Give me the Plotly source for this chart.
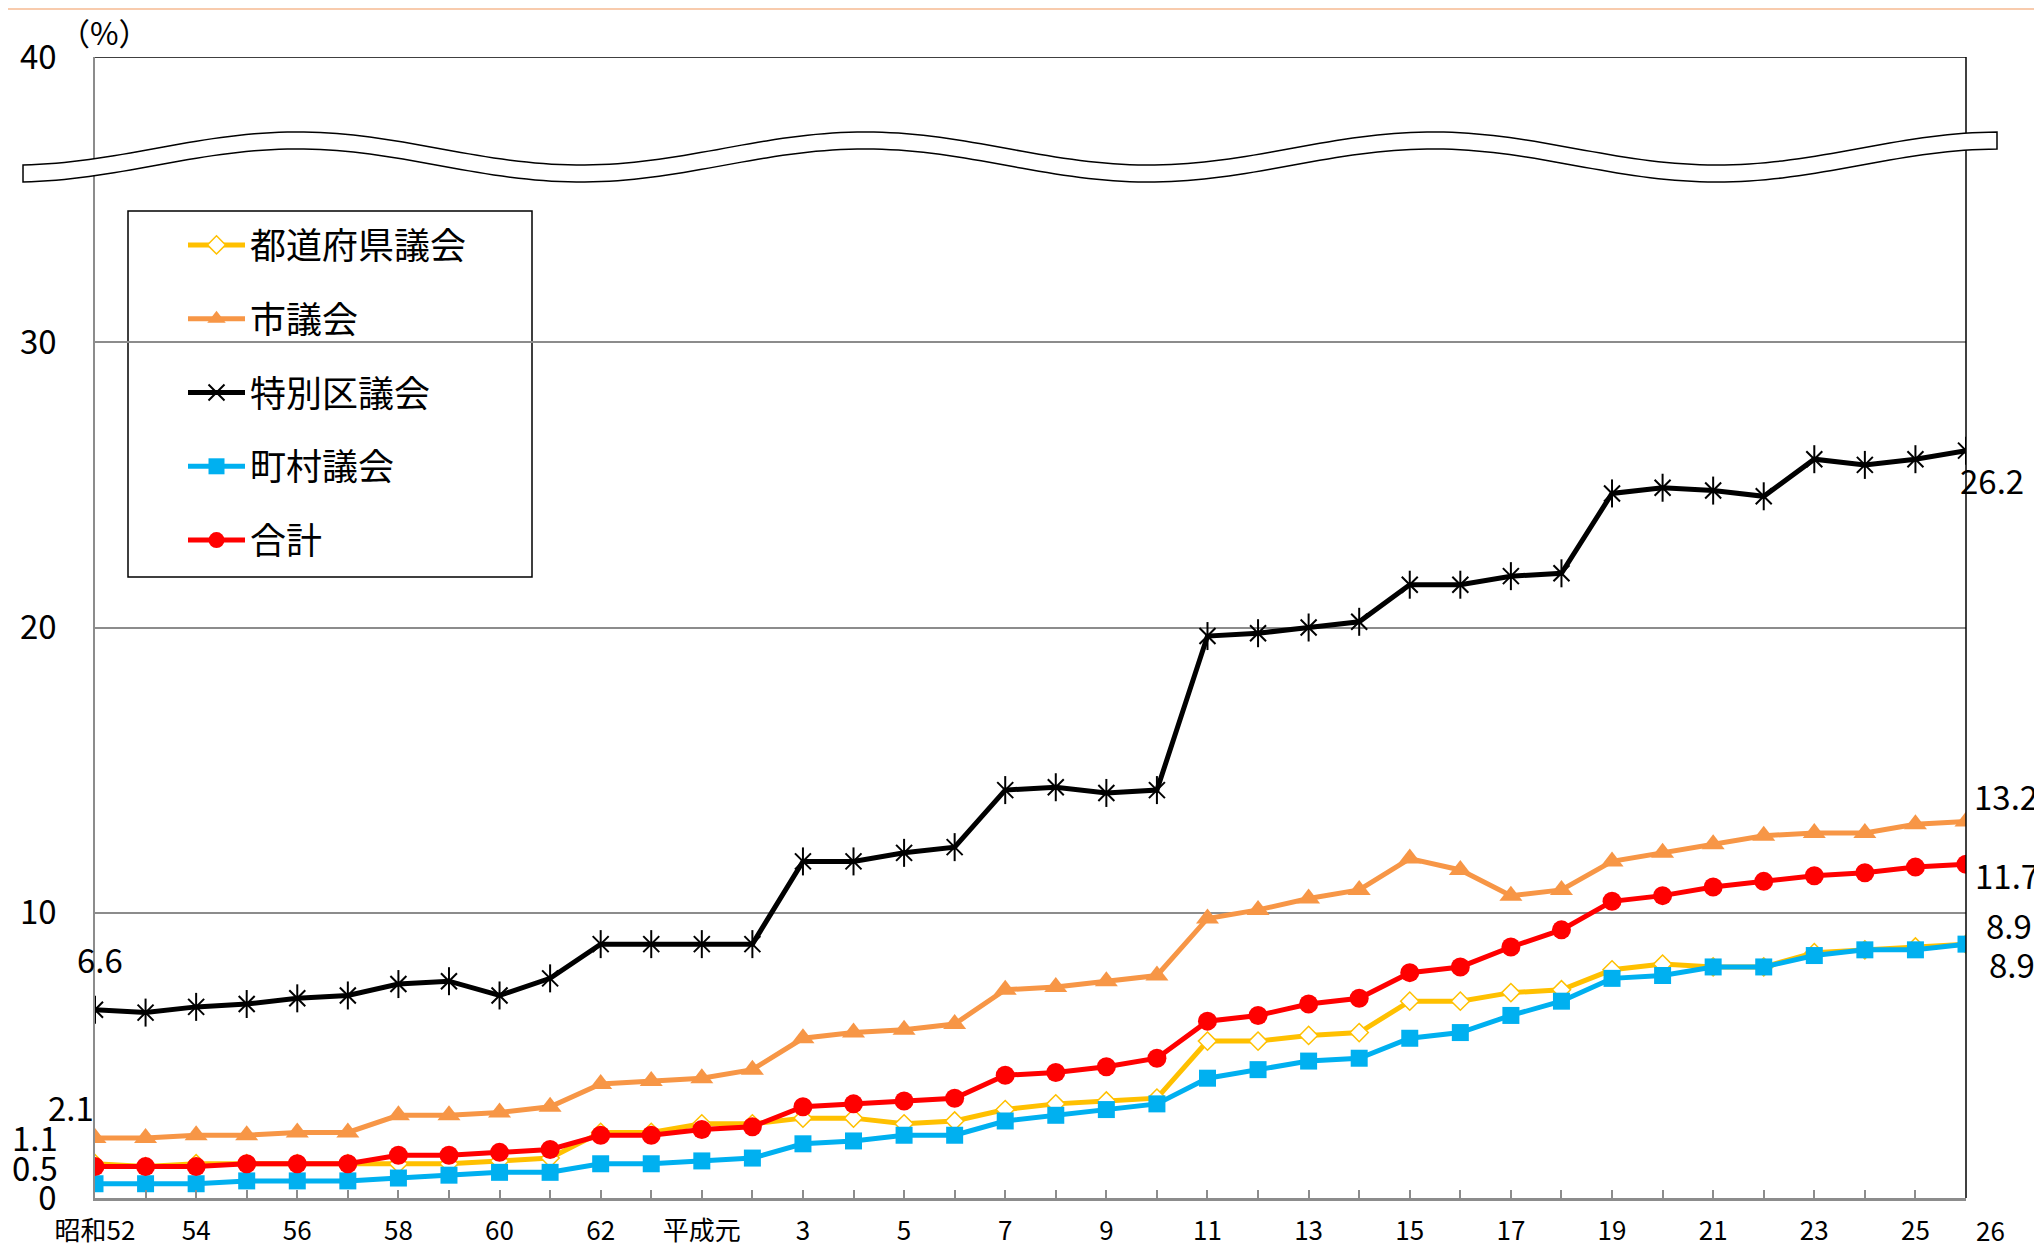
import numpy as np
import plotly.graph_objects as go

# ---------------- data ----------------
years = ["昭和52", "53", "54", "55", "56", "57", "58", "59", "60", "61", "62", "63",
         "平成元", "2", "3", "4", "5", "6", "7", "8", "9", "10", "11", "12", "13", "14",
         "15", "16", "17", "18", "19", "20", "21", "22", "23", "24", "25", "26"]

prefectural = [1.2, 1.1, 1.2, 1.2, 1.2, 1.2, 1.2, 1.2, 1.3, 1.4, 2.3, 2.3,
               2.6, 2.6, 2.8, 2.8, 2.6, 2.7, 3.1, 3.3, 3.4, 3.5, 5.5, 5.5, 5.7, 5.8,
               6.9, 6.9, 7.2, 7.3, 8.0, 8.2, 8.1, 8.1, 8.6, 8.7, 8.8, 8.9]
city = [2.1, 2.1, 2.2, 2.2, 2.3, 2.3, 2.9, 2.9, 3.0, 3.2, 4.0, 4.1,
        4.2, 4.5, 5.6, 5.8, 5.9, 6.1, 7.3, 7.4, 7.6, 7.8, 9.8, 10.1, 10.5, 10.8,
        11.9, 11.5, 10.6, 10.8, 11.8, 12.1, 12.4, 12.7, 12.8, 12.8, 13.1, 13.2]
special_ward = [6.6, 6.5, 6.7, 6.8, 7.0, 7.1, 7.5, 7.6, 7.1, 7.7, 8.9, 8.9,
                8.9, 8.9, 11.8, 11.8, 12.1, 12.3, 14.3, 14.4, 14.2, 14.3, 19.7, 19.8, 20.0, 20.2,
                21.5, 21.5, 21.8, 21.9, 24.7, 24.9, 24.8, 24.6, 25.9, 25.7, 25.9, 26.2]
town_village = [0.5, 0.5, 0.5, 0.6, 0.6, 0.6, 0.7, 0.8, 0.9, 0.9, 1.2, 1.2,
                1.3, 1.4, 1.9, 2.0, 2.2, 2.2, 2.7, 2.9, 3.1, 3.3, 4.2, 4.5, 4.8, 4.9,
                5.6, 5.8, 6.4, 6.9, 7.7, 7.8, 8.1, 8.1, 8.5, 8.7, 8.7, 8.9]
total = [1.1, 1.1, 1.1, 1.2, 1.2, 1.2, 1.5, 1.5, 1.6, 1.7, 2.2, 2.2,
         2.4, 2.5, 3.2, 3.3, 3.4, 3.5, 4.3, 4.4, 4.6, 4.9, 6.2, 6.4, 6.8, 7.0,
         7.9, 8.1, 8.8, 9.4, 10.4, 10.6, 10.9, 11.1, 11.3, 11.4, 11.6, 11.7]

series_names = ["都道府県議会", "市議会", "特別区議会", "町村議会", "合計"]
y_ticks = [0, 10, 20, 30, 40]
x_ticktext = [y if (i % 2 == 0 and i < len(years) - 1) else "" for i, y in enumerate(years)]

# ---------------- layout constants (page pixels) ----------------
PAGE_W, PAGE_H = 2042, 1247
OFF = 8                        # default body margin of the html page
W, H = PAGE_W - OFF, PAGE_H - OFF
PL, PR, PT, PB = 95, 1966, 57, 1198   # plot area in page pixels
ML, MT = PL - OFF, PT - OFF
MR, MB = W - (PR - OFF), H - (PB - OFF)
PW, PH = PR - PL, PB - PT
FONT = "Noto Sans CJK JP"


def px_x(px):
    return (px - PL) / PW


def px_y(py):
    return (PB - py) / PH


fig = go.Figure()

styles = [
    dict(series=prefectural, color="#FFC000", symbol="diamond", size=14,
         mcolor="white", mline=dict(color="#FFC000", width=1.5)),
    dict(series=city, color="#F79646", symbol="triangle-up", size=20,
         mcolor="#F79646", mline=dict(width=0)),
    dict(series=special_ward, color="#000000", symbol="x-thin-open", size=16,
         mcolor="#000000", mline=dict(color="#000000", width=2)),
    dict(series=town_village, color="#00B0F0", symbol="square", size=17,
         mcolor="#00B0F0", mline=dict(width=0)),
    dict(series=total, color="#FF0000", symbol="circle", size=19,
         mcolor="#FF0000", mline=dict(width=0)),
]

idx = list(range(len(years)))
for name, st in zip(series_names, styles):
    fig.add_trace(go.Scatter(
        x=years, y=st["series"], name=name, mode="lines+markers",
        legendgroup=name,
        line=dict(color=st["color"], width=5),
        marker=dict(symbol=st["symbol"], size=st["size"], color=st["mcolor"],
                    line=st["mline"]),
    ))
    if name == "特別区議会":
        fig.add_trace(go.Scatter(
            x=years, y=st["series"], mode="markers", showlegend=False,
            legendgroup=name, hoverinfo="skip",
            marker=dict(symbol="line-ns-open", size=20, color="#000000",
                        line=dict(color="#000000", width=2)),
        ))

# ---------------- value labels ----------------
ann = []
first_labels = [(special_ward, 5, 51), (city, -24, 31), (total, -60, 30), (town_village, -60, 17)]
for s, dx, dy in first_labels:
    ann.append(dict(x=idx[0], y=s[0], xref="x", yref="y", text=f"{s[0]:.1f}",
                    showarrow=False, xshift=dx, yshift=dy,
                    xanchor="center", yanchor="middle",
                    font=dict(size=33, color="black", family=FONT)))
last_labels = [(special_ward, 26, -29), (city, 40, 25), (total, 41, -11),
               (prefectural, 43, 19), (town_village, 46, -20)]
for s, dx, dy in last_labels:
    ann.append(dict(x=idx[-1], y=s[-1], xref="x", yref="y", text=f"{s[-1]:.1f}",
                    showarrow=False, xshift=dx, yshift=dy,
                    xanchor="center", yanchor="middle",
                    font=dict(size=33, color="black", family=FONT)))
# last category label, offset to the right as in the source
ann.append(dict(x=idx[-1], y=0, xref="x", yref="paper", text=years[-1],
                showarrow=False, xshift=24, yshift=-31,
                xanchor="center", yanchor="middle",
                font=dict(size=26, color="black", family=FONT)))
# unit
ann.append(dict(x=px_x(104), y=px_y(31), xref="paper", yref="paper", text="（%）",
                showarrow=False, xanchor="center", yanchor="middle",
                font=dict(size=31, color="black", family=FONT)))

# ---------------- decorative shapes ----------------
shapes = []
shapes.append(dict(type="line", xref="paper", yref="y", x0=0, x1=1, y0=40, y1=40,
                   line=dict(color="black", width=1.5), layer="above"))
shapes.append(dict(type="line", xref="paper", yref="paper", x0=1, x1=1, y0=0, y1=1,
                   line=dict(color="black", width=1.5), layer="above"))
# axis break band (wavy)
xs = np.linspace(23, 1997, 240)
top = 148.5 - 16.5 * np.cos(2 * np.pi * (xs - 297) / 568)
bot = top + 17
pts = [(px_x(a), px_y(b)) for a, b in zip(xs, top)] + \
      [(px_x(a), px_y(b)) for a, b in zip(xs[::-1], bot[::-1])]
path = "M" + " L".join(f"{a:.5f},{b:.5f}" for a, b in pts) + " Z"
shapes.append(dict(type="path", xref="paper", yref="paper", path=path,
                   fillcolor="white", line=dict(color="black", width=1.5), layer="above"))
# legend box
shapes.append(dict(type="rect", xref="paper", yref="paper",
                   x0=px_x(128), x1=px_x(532), y0=px_y(577), y1=px_y(211),
                   fillcolor="white", line=dict(color="black", width=1.5), layer="below"))
# thin peach line at the top of the page
shapes.append(dict(type="line", xref="paper", yref="paper", x0=px_x(0), x1=px_x(PAGE_W),
                   y0=px_y(OFF + 1), y1=px_y(OFF + 1), line=dict(color="#F8CBAD", width=2)))

fig.update_layout(
    width=W, height=H,
    margin=dict(l=ML, r=MR, t=MT, b=MB, autoexpand=False),
    paper_bgcolor="white", plot_bgcolor="white",
    font=dict(family=FONT, color="black"),
    showlegend=True,
    legend=dict(x=px_x(183), y=px_y(215), xanchor="left", yanchor="top",
                bgcolor="rgba(0,0,0,0)", borderwidth=0,
                font=dict(size=36, family=FONT, color="black"),
                tracegroupgap=24, itemwidth=57),
    annotations=ann,
    shapes=shapes,
    xaxis=dict(type="category", range=[0, len(years) - 1],
               tickmode="array", tickvals=years, ticktext=x_ticktext,
               ticks="inside", ticklen=8, tickcolor="#8c8c8c", tickwidth=1.5,
               showline=True, linecolor="#8c8c8c", linewidth=2.5,
               showgrid=False, zeroline=False,
               tickfont=dict(size=26, family=FONT, color="black"),
               ticklabelstandoff=8, tickangle=0),
    yaxis=dict(range=[0, 40], tickmode="array", tickvals=y_ticks,
               showline=True, linecolor="#8c8c8c", linewidth=1.5,
               showgrid=True, gridcolor="#8c8c8c", gridwidth=1.5,
               zeroline=False, ticks="",
               tickfont=dict(size=33, family=FONT, color="black"),
               ticklabelstandoff=30),
)

fig.write_html("out.html")
